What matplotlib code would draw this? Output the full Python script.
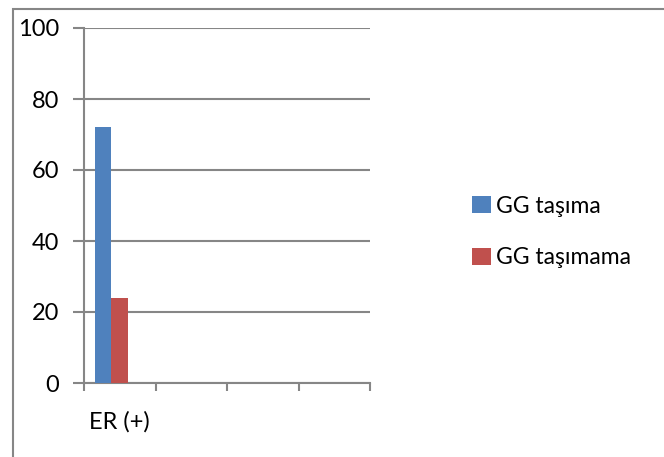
import matplotlib
matplotlib.use("Agg")
import matplotlib.pyplot as plt
from matplotlib.patches import Rectangle
import numpy as np

# data
categories = ["ER (+)", "", "", ""]
series_names = ["GG taşıma", "GG taşımama"]
tasima = [72]
tasimamama = [24]
colors = ["#4F81BD", "#C0504D"]

plt.rcParams['font.family'] = ['Lato', 'DejaVu Sans']

W, H = 664, 457
fig = plt.figure(figsize=(W / 100, H / 100), dpi=100)
ax = fig.add_axes([84 / W, 1 - 383 / H, (370 - 84) / W, (383 - 28) / H])

grey = "#868686"

# three slots per category (third one is empty), Excel-style gap
n_slots = 3
bar_w = 0.235
start = (1 - n_slots * bar_w) / 2
for s, (vals, col, name) in enumerate(zip([tasima, tasimamama], colors, series_names)):
    x = np.arange(len(vals)) + start + bar_w * (s + 0.5)
    ax.bar(x, vals, width=bar_w, color=col, label=name, zorder=3)

ax.set_xlim(0, len(categories))
ax.set_ylim(0, 100)

ax.set_yticks(range(0, 101, 20))
ax.yaxis.grid(True, color=grey, lw=1.5, zorder=0)
ax.tick_params(axis='y', length=8, width=1.5, color=grey, labelsize=17, pad=10)

ax.set_xticks(np.arange(len(categories)) + 0.5)
ax.set_xticklabels(categories)
ax.set_xticks(np.arange(len(categories) + 1), minor=True)
ax.tick_params(axis='x', which='major', length=0, labelsize=17, pad=20)
ax.tick_params(axis='x', which='minor', length=6, width=1.5, color=grey)

for side in ['top', 'right']:
    ax.spines[side].set_visible(False)
for side in ['left', 'bottom']:
    ax.spines[side].set_color(grey)
    ax.spines[side].set_linewidth(1.5)

ax.legend(loc='center left', bbox_to_anchor=(472 / W, 1 - 232 / H),
          bbox_transform=fig.transFigure, frameon=False, fontsize=16.5,
          handlelength=0.83, handleheight=0.75, handletextpad=0.2,
          labelspacing=1.35, borderpad=0, borderaxespad=0)

# outer chart border (only left and top edges fall inside the image)
fig.add_artist(Rectangle((12.5 / W, -0.1), 1.2, 1 - 8.5 / H + 0.1,
                         transform=fig.transFigure, fill=False,
                         ec=grey, lw=1.5))

fig.savefig("out.png", dpi=100)
